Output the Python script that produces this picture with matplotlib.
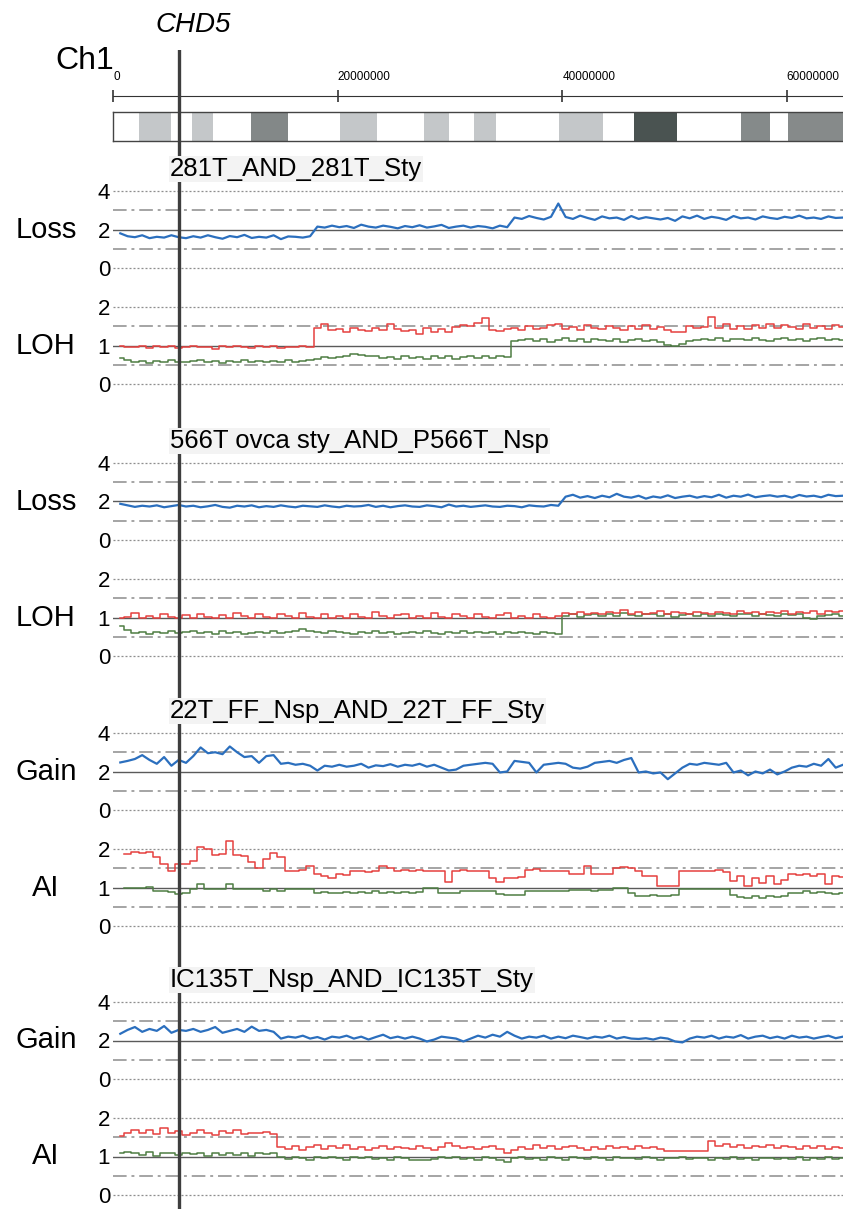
import numpy as np
import matplotlib
matplotlib.use('Agg')
import matplotlib.pyplot as plt

plt.rcParams['font.family'] = ['Liberation Sans', 'DejaVu Sans']

# one value per 0.65 Mb bin along chromosome 1 (bin centres in Mb)
probe_mb = np.arange(1, 101) * 0.65

chr_ticks_mb = [0, 20, 40, 60]
chd5_mb = 5.9

# cytoband stripes of the ideogram (Mb)
band_starts = [2.3, 7.0, 12.3, 20.2, 27.7, 32.1, 39.7, 46.4, 55.9, 60.1]
band_ends = [5.2, 8.9, 15.6, 23.5, 29.9, 34.1, 43.6, 50.2, 58.5, 65.0]
band_colors = ['#c4c7c9', '#c4c7c9', '#838888', '#c4c7c9', '#c4c7c9',
               '#c4c7c9', '#c4c7c9', '#4a5351', '#858a8a', '#868a8a']

sample_names = ['281T_AND_281T_Sty', '566T ovca sty_AND_P566T_Nsp',
                '22T_FF_Nsp_AND_22T_FF_Sty', 'IC135T_Nsp_AND_IC135T_Sty']
cn_labels = ['Loss', 'Loss', 'Gain', 'Gain']
ai_labels = ['LOH', 'LOH', 'AI', 'AI']

# copy number (blue)
cn_281 = [1.8, 1.65, 1.6, 1.7, 1.55, 1.62, 1.58, 1.7, 1.6, 1.55,
          1.65, 1.58, 1.7, 1.6, 1.52, 1.66, 1.6, 1.72, 1.56, 1.62,
          1.58, 1.7, 1.5, 1.64, 1.62, 1.58, 1.65, 2.15, 2.1, 2.2,
          2.12, 2.18, 2.08, 2.25, 2.15, 2.1, 2.2, 2.14, 2.06, 2.18,
          2.12, 2.22, 2.1, 2.16, 2.24, 2.08, 2.15, 2.2, 2.1, 2.18,
          2.14, 2.06, 2.2, 2.12, 2.62, 2.55, 2.7, 2.6, 2.52, 2.66,
          3.35, 2.65, 2.55, 2.72, 2.6, 2.5, 2.68, 2.58, 2.62, 2.5,
          2.7, 2.55, 2.64, 2.58, 2.52, 2.6, 2.45, 2.68, 2.58, 2.72,
          2.55, 2.66, 2.6, 2.5, 2.7, 2.58, 2.62, 2.52, 2.68, 2.6,
          2.55, 2.66, 2.6, 2.72, 2.58, 2.62, 2.55, 2.68, 2.6, 2.62]
cn_566 = [1.88, 1.8, 1.72, 1.78, 1.74, 1.8, 1.7, 1.76, 1.82, 1.74,
          1.78, 1.7, 1.75, 1.82, 1.72, 1.68, 1.78, 1.74, 1.8, 1.7,
          1.76, 1.72, 1.8, 1.74, 1.7, 1.78, 1.75, 1.72, 1.8, 1.74,
          1.7, 1.78, 1.74, 1.76, 1.82, 1.72, 1.78, 1.7, 1.76, 1.8,
          1.74, 1.72, 1.8, 1.76, 1.7, 1.84, 1.74, 1.78, 1.72, 1.76,
          1.8, 1.74, 1.72, 1.78, 1.76, 1.7, 1.8, 1.76, 1.74, 1.82,
          1.78, 2.25, 2.35, 2.2, 2.28, 2.18, 2.3, 2.22, 2.4, 2.25,
          2.2, 2.3, 2.15, 2.26, 2.2, 2.32, 2.18, 2.25, 2.3, 2.2,
          2.28, 2.22, 2.35, 2.2, 2.3, 2.25, 2.36, 2.22, 2.28, 2.32,
          2.25, 2.3, 2.2, 2.34, 2.26, 2.3, 2.22, 2.35, 2.28, 2.3]
cn_22 = [2.47, 2.55, 2.65, 2.85, 2.6, 2.4, 2.75, 2.3, 2.6, 2.45,
         2.8, 3.25, 2.95, 3.0, 2.9, 3.3, 3.0, 2.75, 2.8, 2.45,
         2.8, 2.85, 2.4, 2.45, 2.35, 2.4, 2.3, 2.05, 2.3, 2.25,
         2.35, 2.25, 2.3, 2.4, 2.2, 2.32, 2.28, 2.38, 2.25, 2.35,
         2.3, 2.4, 2.25, 2.35, 2.2, 2.05, 2.1, 2.3, 2.35, 2.4,
         2.45, 2.4, 1.95, 2.0, 2.55, 2.5, 2.45, 1.95, 2.35, 2.4,
         2.45, 2.4, 2.2, 2.15, 2.25, 2.45, 2.5, 2.55, 2.45, 2.6,
         2.7, 1.95, 2.0, 1.9, 1.95, 1.6, 1.9, 2.2, 2.4, 2.35,
         2.45, 2.4, 2.35, 2.45, 1.95, 2.05, 1.8, 2.0, 1.9, 2.1,
         1.85, 2.0, 2.2, 2.3, 2.25, 2.4, 2.3, 2.65, 2.2, 2.35]
cn_ic135 = [2.35, 2.55, 2.7, 2.45, 2.6, 2.5, 2.75, 2.4, 2.55, 2.5,
            2.6, 2.45, 2.55, 2.7, 2.4, 2.5, 2.6, 2.45, 2.72, 2.5,
            2.55, 2.45, 2.1, 2.2, 2.15, 2.25, 2.1, 2.18, 2.05, 2.2,
            2.15, 2.25, 2.1, 2.2, 2.05, 2.18, 2.3, 2.12, 2.2, 2.1,
            2.2, 2.1, 1.95, 2.05, 2.2, 2.15, 2.1, 1.95, 2.1, 2.25,
            2.15, 2.3, 2.2, 2.45, 2.25, 2.1, 2.2, 2.15, 2.25, 2.1,
            2.2, 2.12, 2.25, 2.18, 2.1, 2.2, 2.15, 2.25, 2.1, 2.18,
            2.1, 2.08, 2.12, 2.05, 2.15, 2.1, 1.95, 1.9, 2.1, 2.2,
            2.15, 2.25, 2.1, 2.2, 2.15, 2.28, 2.1, 2.2, 2.25, 2.12,
            2.2, 2.1, 2.25, 2.15, 2.2, 2.1, 2.18, 2.25, 2.12, 2.2]

# allele-specific copy number: larger allele (red), smaller allele (green)
major_281 = [1.0, 0.97, 0.95, 1.0, 0.93, 0.98, 0.96, 1.0, 0.94, 0.97,
             0.99, 0.95, 0.97, 0.92, 0.98, 0.95, 1.0, 0.96, 0.93, 0.98,
             0.96, 0.99, 0.94, 0.97, 0.95, 0.98, 0.96, 1.45, 1.55, 1.4,
             1.42, 1.36, 1.45, 1.4, 1.38, 1.46, 1.4, 1.55, 1.44, 1.38,
             1.4, 1.3, 1.45, 1.36, 1.42, 1.34, 1.48, 1.52, 1.5, 1.58,
             1.72, 1.4, 1.38, 1.42, 1.45, 1.4, 1.5, 1.42, 1.46, 1.52,
             1.55, 1.44, 1.48, 1.4, 1.52, 1.46, 1.42, 1.5, 1.45, 1.4,
             1.5, 1.44, 1.52, 1.42, 1.48, 1.4, 1.35, 1.35, 1.5, 1.46,
             1.48, 1.75, 1.45, 1.55, 1.44, 1.5, 1.42, 1.52, 1.46, 1.55,
             1.45, 1.52, 1.48, 1.42, 1.55, 1.46, 1.5, 1.44, 1.52, 1.48]
minor_281 = [0.68, 0.62, 0.58, 0.6, 0.55, 0.6, 0.57, 0.62, 0.58, 0.56,
             0.6, 0.62, 0.57, 0.6, 0.55, 0.6, 0.58, 0.62, 0.56, 0.6,
             0.58, 0.6, 0.56, 0.62, 0.58, 0.6, 0.62, 0.66, 0.7, 0.68,
             0.7, 0.74, 0.78, 0.76, 0.72, 0.74, 0.68, 0.7, 0.66, 0.72,
             0.68, 0.7, 0.65, 0.72, 0.68, 0.74, 0.66, 0.7, 0.72, 0.68,
             0.74, 0.68, 0.72, 0.7, 1.12, 1.15, 1.18, 1.12, 1.16, 1.1,
             1.15, 1.2, 1.12, 1.16, 1.1, 1.18, 1.14, 1.12, 1.16, 1.1,
             1.14, 1.18, 1.12, 1.15, 1.1, 1.02, 1.0, 1.05, 1.12, 1.15,
             1.18, 1.14, 1.2, 1.12, 1.16, 1.18, 1.14, 1.2, 1.15, 1.12,
             1.16, 1.2, 1.14, 1.18, 1.12, 1.16, 1.2, 1.15, 1.18, 1.14]
major_566 = [1.0, 1.02, 1.12, 1.0, 1.05, 1.0, 1.1, 1.02, 1.0, 1.06,
             1.0, 1.1, 1.02, 1.0, 1.06, 1.0, 1.12, 1.03, 1.0, 1.08,
             1.02, 1.0, 1.1, 1.04, 1.0, 1.12, 1.02, 1.0, 1.08, 1.0,
             1.05, 1.0, 1.1, 1.02, 1.0, 1.14, 1.03, 1.0, 1.06, 1.1,
             1.0, 1.04, 1.0, 1.12, 1.02, 1.0, 1.08, 1.03, 1.0, 1.1,
             1.02, 1.0, 1.06, 1.12, 1.0, 1.04, 1.0, 1.1, 1.02, 1.0,
             1.05, 1.12, 1.1, 1.15, 1.08, 1.12, 1.1, 1.14, 1.12, 1.2,
             1.1, 1.15, 1.1, 1.12, 1.16, 1.1, 1.14, 1.12, 1.1, 1.15,
             1.12, 1.1, 1.15, 1.12, 1.1, 1.16, 1.12, 1.14, 1.1, 1.15,
             1.12, 1.16, 1.1, 1.14, 1.12, 1.18, 1.1, 1.16, 1.14, 1.18]
minor_566 = [0.78, 0.68, 0.6, 0.62, 0.58, 0.62, 0.6, 0.64, 0.6, 0.62,
             0.66, 0.6, 0.62, 0.58, 0.64, 0.6, 0.62, 0.58, 0.6, 0.62,
             0.6, 0.64, 0.6, 0.62, 0.66, 0.7, 0.66, 0.62, 0.6, 0.64,
             0.62, 0.6, 0.58, 0.62, 0.6, 0.64, 0.6, 0.62, 0.58, 0.6,
             0.62, 0.6, 0.64, 0.6, 0.58, 0.62, 0.6, 0.65, 0.6, 0.62,
             0.6, 0.62, 0.58, 0.62, 0.6, 0.62, 0.6, 0.58, 0.62, 0.6,
             0.58, 1.05, 1.08, 1.02, 1.06, 1.1, 1.04, 1.08, 1.05, 1.12,
             1.06, 1.04, 1.08, 1.1, 1.05, 1.08, 1.02, 1.06, 1.1, 1.04,
             1.08, 1.05, 1.1, 1.06, 1.04, 1.08, 1.1, 1.05, 1.08, 1.06,
             1.04, 1.08, 1.06, 1.1, 1.0, 0.97, 1.04, 1.06, 1.08, 1.05]
major_22 = [np.nan, 1.88, 1.92, 1.9, 1.92, 1.8, 1.62, 1.42, 1.6, 1.6,
            1.68, 2.06, 2.0, 1.85, 1.88, 2.2, 1.85, 1.82, 1.65, 1.5,
            1.75, 1.9, 1.8, 1.42, 1.42, 1.45, 1.55, 1.34, 1.3, 1.25,
            1.36, 1.32, 1.42, 1.44, 1.4, 1.42, 1.55, 1.5, 1.44, 1.46,
            1.44, 1.45, 1.44, 1.42, 1.44, 1.13, 1.42, 1.45, 1.42, 1.44,
            1.42, 1.25, 1.13, 1.25, 1.25, 1.26, 1.46, 1.48, 1.44, 1.42,
            1.42, 1.44, 1.34, 1.34, 1.55, 1.34, 1.34, 1.36, 1.5, 1.52,
            1.5, 1.42, 1.3, 1.3, 1.04, 1.04, 1.04, 1.44, 1.44, 1.44,
            1.44, 1.42, 1.46, 1.4, 1.17, 1.3, 1.05, 1.25, 1.12, 1.3,
            1.08, 1.2, 1.34, 1.32, 1.36, 1.3, 1.34, 1.08, 1.3, 1.28]
minor_22 = [np.nan, 1.0, 1.0, 0.98, 1.02, 0.92, 0.9, 0.88, 0.83, 0.85,
            0.96, 1.1, 0.96, 0.97, 0.95, 1.08, 0.96, 0.95, 0.97, 0.96,
            0.92, 0.95, 0.9, 0.96, 0.95, 0.97, 0.96, 0.87, 0.88, 0.86,
            0.87, 0.88, 0.86, 0.88, 0.87, 0.9, 0.86, 0.88, 0.87, 0.89,
            0.87, 0.88, 1.0, 1.0, 0.85, 0.86, 0.85, 0.9, 0.9, 0.9,
            0.9, 0.9, 0.82, 0.81, 0.81, 0.81, 0.9, 0.9, 0.91, 0.9,
            0.9, 0.9, 0.93, 0.93, 0.94, 0.92, 0.93, 0.93, 1.0, 1.0,
            0.87, 0.79, 0.79, 0.8, 0.79, 0.78, 0.8, 0.96, 0.96, 0.95,
            0.96, 0.97, 0.96, 0.95, 0.8, 0.76, 0.72, 0.78, 0.74, 0.77,
            0.75, 0.78, 0.87, 0.86, 0.9, 0.85, 0.88, 0.86, 0.82, 0.87]
major_ic135 = [1.53, 1.62, 1.7, 1.6, 1.68, 1.58, 1.75, 1.62, 1.66, 1.55,
               1.6, 1.68, 1.62, 1.55, 1.65, 1.6, 1.7, 1.58, 1.62, 1.6,
               1.64, 1.58, 1.25, 1.2, 1.28, 1.18, 1.25, 1.3, 1.2, 1.26,
               1.22, 1.3, 1.2, 1.25, 1.18, 1.22, 1.28, 1.2, 1.25, 1.22,
               1.2, 1.26, 1.22, 1.18, 1.24, 1.36, 1.28, 1.22, 1.25, 1.2,
               1.24, 1.28, 1.2, 1.09, 1.18, 1.25, 1.2, 1.3, 1.22, 1.26,
               1.2, 1.25, 1.28, 1.22, 1.18, 1.24, 1.2, 1.28, 1.22, 1.25,
               1.2, 1.26, 1.22, 1.24, 1.2, 1.15, 1.15, 1.15, 1.15, 1.15,
               1.15, 1.4, 1.28, 1.32, 1.25, 1.3, 1.22, 1.28, 1.25, 1.3,
               1.22, 1.28, 1.25, 1.2, 1.28, 1.22, 1.26, 1.2, 1.25, 1.22]
minor_ic135 = [1.08, 1.12, 1.1, 1.05, 1.12, 1.02, 1.08, 1.1, 1.04, 1.08,
               1.06, 1.1, 1.02, 1.08, 1.05, 1.1, 1.04, 1.08, 1.02, 1.1,
               1.06, 1.1, 0.98, 0.94, 1.0, 0.96, 0.92, 0.98, 0.95, 1.0,
               0.96, 0.92, 0.98, 0.95, 1.0, 0.94, 0.97, 0.92, 0.98, 0.95,
               0.92, 0.9, 0.9, 0.93, 0.98, 0.95, 1.0, 0.94, 0.97, 0.92,
               0.98, 0.95, 0.92, 0.85, 0.95, 1.0, 0.94, 0.97, 0.92, 0.98,
               0.95, 0.92, 0.98, 0.96, 0.93, 0.99, 0.95, 0.92, 0.98, 0.95,
               0.97, 0.93, 0.98, 0.95, 0.92, 0.97, 0.95, 0.99, 0.94, 0.97,
               0.95, 0.92, 0.97, 0.94, 0.98, 0.93, 0.96, 0.92, 0.97, 0.95,
               0.93, 0.97, 0.94, 0.98, 0.92, 0.96, 0.94, 0.98, 0.93, 0.96]

cn_series = [cn_281, cn_566, cn_22, cn_ic135]
major_series = [major_281, major_566, major_22, major_ic135]
minor_series = [minor_281, minor_566, minor_22, minor_ic135]

W, H = 843, 1209
X0, X1 = 113, 843          # pixel span of the data area
XMAX = 65.0
panel_tops = [191, 463, 733, 1002]


def px_rect(left, top, width, height):
    return [left / W, 1 - (top + height) / H, width / W, height / H]


def draw_guides(ax, dotted, dashed, solid):
    for v in dotted:
        ax.axhline(v, color='#8e8e8e', lw=0.9, ls=(0, (1.6, 1.6)), zorder=1)
    for v in dashed:
        ax.axhline(v, color='#a4a4a4', lw=1.4, ls=(0, (7, 2.5, 1.5, 2.5)), zorder=1)
    ax.axhline(solid, color='#5a5a5a', lw=1.0, zorder=1)


def style_track(ax, ticks, lo, hi):
    ax.set_xlim(0, XMAX)
    ax.set_ylim(lo, hi)
    ax.set_xticks([])
    ax.set_yticks(ticks, labels=[str(t) for t in ticks], fontsize=16)
    ax.tick_params(axis='y', length=0, pad=2)
    for s in ax.spines.values():
        s.set_visible(False)
    ax.patch.set_alpha(0)


fig = plt.figure(figsize=(W / 100, H / 100), dpi=100)

fig.text(193 / W, 1 - 25 / H, 'CHD5', fontsize=20, style='italic', ha='center', va='center')
fig.text(85 / W, 1 - 61 / H, 'Ch1', fontsize=23, ha='center', va='center')

# coordinate ruler
ruler = fig.add_axes(px_rect(X0, 96, X1 - X0, 1))
ruler.set_xlim(0, XMAX)
ruler.set_yticks([])
for name, s in ruler.spines.items():
    s.set_visible(name == 'top')
ruler.spines['top'].set_color('#333333')
ruler.xaxis.set_ticks_position('top')
ruler.set_xticks(chr_ticks_mb, labels=[str(int(t * 1000000)) for t in chr_ticks_mb], fontsize=8.5)
ruler.tick_params(axis='x', direction='inout', length=9, width=1.2, color='#333333', pad=5)
for lbl in ruler.get_xticklabels():
    lbl.set_horizontalalignment('left')

# ideogram
ideo = fig.add_axes(px_rect(X0, 112, X1 - X0, 29))
ideo.set_xlim(0, XMAX)
ideo.set_ylim(0, 1)
ideo.broken_barh([(s, e - s) for s, e in zip(band_starts, band_ends)], (0, 1),
                 facecolors=band_colors)
ideo.set_xticks([])
ideo.set_yticks([])
for s in ideo.spines.values():
    s.set_color('#444444')
    s.set_linewidth(1.0)
ideo.spines['right'].set_visible(False)

cn_unit = 77 / 4
ai_unit = 77 / 2
for k, top in enumerate(panel_tops):
    fig.text(170 / W, 1 - (top - 22) / H, sample_names[k], fontsize=18.5, ha='left', va='center',
             bbox=dict(facecolor='#f3f3f3', edgecolor='none', pad=1))

    ax_cn = fig.add_axes(px_rect(X0, top - 0.5 * cn_unit, X1 - X0, 5 * cn_unit))
    style_track(ax_cn, [0, 2, 4], -0.5, 4.5)
    draw_guides(ax_cn, [0, 4], [1, 3], 2)
    ax_cn.plot(probe_mb, cn_series[k], color='#2b6fbe', lw=1.6, zorder=3)
    fig.text(46 / W, 1 - (top + 2 * cn_unit) / H, cn_labels[k], fontsize=21, ha='center', va='center')

    ai_top = top + 116
    ax_ai = fig.add_axes(px_rect(X0, ai_top - 0.25 * ai_unit, X1 - X0, 2.5 * ai_unit))
    style_track(ax_ai, [0, 1, 2], -0.25, 2.25)
    draw_guides(ax_ai, [0, 2], [0.5, 1.5], 1)
    ax_ai.plot(probe_mb, minor_series[k], color='#4e7d43', lw=1.1, drawstyle='steps-mid', zorder=3)
    ax_ai.plot(probe_mb, major_series[k], color='#e5403e', lw=1.1, drawstyle='steps-mid', zorder=4)
    fig.text(46 / W, 1 - (ai_top + ai_unit) / H, ai_labels[k], fontsize=21, ha='center', va='center')

# CHD5 locus marker across all tracks
marker_ax = fig.add_axes(px_rect(X0, 50, X1 - X0, H - 50))
marker_ax.set_xlim(0, XMAX)
marker_ax.axis('off')
marker_ax.axvline(chd5_mb, color='#3e3e3e', lw=2.4)

fig.savefig('out.png', dpi=100)
